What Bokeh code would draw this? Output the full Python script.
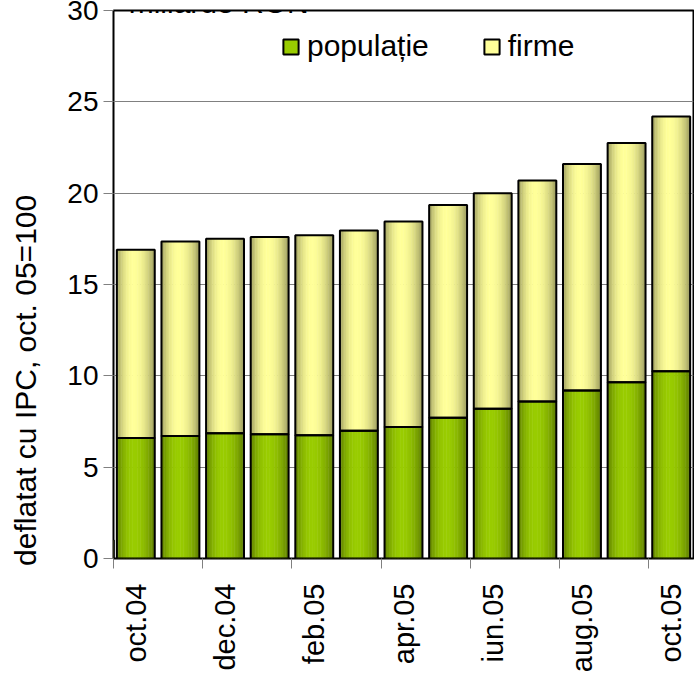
import numpy as np
from math import pi
from bokeh.plotting import figure
from bokeh.models import FixedTicker, Legend, LegendItem, Label, ColumnDataSource
from bokeh.embed import file_html
from bokeh.resources import INLINE

# ---- data ----
months = ["oct.04", "nov.04", "dec.04", "ian.05", "feb.05", "mar.05", "apr.05",
          "mai.05", "iun.05", "iul.05", "aug.05", "sep.05", "oct.05"]
populatie = [6.6, 6.7, 6.85, 6.8, 6.75, 7.0, 7.2, 7.7, 8.2, 8.6, 9.2, 9.65, 10.25]
firme = [10.3, 10.65, 10.65, 10.8, 10.95, 10.95, 11.25, 11.65, 11.8, 12.1, 12.4, 13.1, 13.95]
y_ticks = [0, 5, 10, 15, 20, 25, 30]
series_names = ["populație", "firme"]
y_title = "deflatat cu IPC, oct. 05=100"
unit_title = "miliarde RON"

FONT = "Liberation Sans"
FS = "30px"

n = len(months)
xc = np.arange(n) + 0.5
pop = np.array(populatie)
tot = pop + np.array(firme)

p = figure(width=694, height=675, x_range=(0, n), y_range=(0, 30),
           output_backend="svg", toolbar_location=None,
           min_border_left=113, min_border_right=1, min_border_top=10,
           min_border_bottom=114)
p.background_fill_color = "white"
p.border_fill_color = "white"
p.outline_line_color = "black"
p.outline_line_width = 2

# gradient helper (cylinder-like shading, highlight a bit left of centre)
def shade(light, t):
    u = t / 0.9 if t < 0.45 else 0.5 + (t - 0.45) / 1.1
    f = 0.2 + 0.8 * np.sin(pi * u) ** 0.7
    dark = [c * 0.45 for c in light]
    rgb = [int(round(d + f * (l - d))) for d, l in zip(dark, light)]
    return "#%02x%02x%02x" % tuple(rgb)

GREEN = (153, 204, 0)
YELLOW = (255, 255, 153)
BAR_W = 0.85
N = 24
for k in range(N):
    t = (k + 0.5) / N
    off = -BAR_W / 2 + (k + 0.5) * BAR_W / N
    p.vbar(x=xc + off, bottom=0, top=pop, width=BAR_W / N * 1.3,
           fill_color=shade(GREEN, t), line_color=None)
    p.vbar(x=xc + off, bottom=pop, top=tot, width=BAR_W / N * 1.3,
           fill_color=shade(YELLOW, t), line_color=None)

p.vbar(x=xc, bottom=0, top=pop, width=BAR_W, fill_color=None,
       line_color="black", line_width=2)
p.vbar(x=xc, bottom=pop, top=tot, width=BAR_W, fill_color=None,
       line_color="black", line_width=2)

# legend-only renderers (one point far outside the visible range)
lg_pop = p.vbar(x="x", top="top", width=0.5,
                source=ColumnDataSource(dict(x=[-50], top=[1])),
                fill_color="#99CC00", line_color="black", line_width=2)
lg_fir = p.vbar(x="x", top="top", width=0.5,
                source=ColumnDataSource(dict(x=[-50], top=[1])),
                fill_color="#FFFF99", line_color="black", line_width=2)
legend = Legend(items=[LegendItem(label=series_names[0], renderers=[lg_pop]),
                       LegendItem(label=series_names[1], renderers=[lg_fir])],
                orientation="horizontal", location=(168, 495),
                glyph_width=19, glyph_height=19, label_standoff=7, spacing=53,
                padding=0, margin=0, border_line_color=None,
                background_fill_alpha=0,
                label_text_font=FONT, label_text_font_size=FS,
                label_text_color="black")
p.add_layout(legend)

# axes
yax = p.yaxis[0]
yax.ticker = FixedTicker(ticks=y_ticks, minor_ticks=[])
yax.major_tick_out = 10
yax.major_tick_in = 0
yax.major_tick_line_color = "#808080"
yax.major_tick_line_width = 1
yax.axis_line_color = None
yax.major_label_standoff = 5
yax.major_label_text_font = FONT
yax.major_label_text_font_size = "28px"
yax.major_label_text_color = "black"
# trailing no-break spaces shift the title downwards, as in the original
yax.axis_label = y_title + "\u00a0" * 23
yax.axis_label_text_font = FONT
yax.axis_label_text_font_size = FS
yax.axis_label_text_font_style = "normal"
yax.axis_label_text_color = "black"
yax.axis_label_standoff = 22

xax = p.xaxis[0]
label_pos = [i + 0.5 for i in range(0, n, 2)]
xax.ticker = FixedTicker(ticks=label_pos, minor_ticks=[float(i) for i in range(0, n, 2)])
xax.major_label_overrides = {i + 0.5: months[i] for i in range(0, n, 2)}
xax.major_label_orientation = pi / 2
xax.major_tick_line_color = None
xax.major_tick_out = 0
xax.major_tick_in = 0
xax.minor_tick_out = 10
xax.minor_tick_in = 0
xax.minor_tick_line_color = "#808080"
xax.axis_line_color = None
xax.major_label_standoff = 15
xax.major_label_text_font = FONT
xax.major_label_text_font_size = "29px"
xax.major_label_text_color = "black"

p.xgrid.grid_line_color = None
p.ygrid.ticker = FixedTicker(ticks=y_ticks)
p.ygrid.grid_line_color = "#808080"
p.ygrid.grid_line_width = 1

# unit title above the frame (mostly cut off by the top edge, as in the original)
p.add_layout(Label(x=0.34, y=30.42, text=unit_title, text_align="left",
                   text_baseline="alphabetic",
                   text_font=FONT, text_font_size=FS, text_color="black"))

open("out.html", "w").write(file_html(p, INLINE))
